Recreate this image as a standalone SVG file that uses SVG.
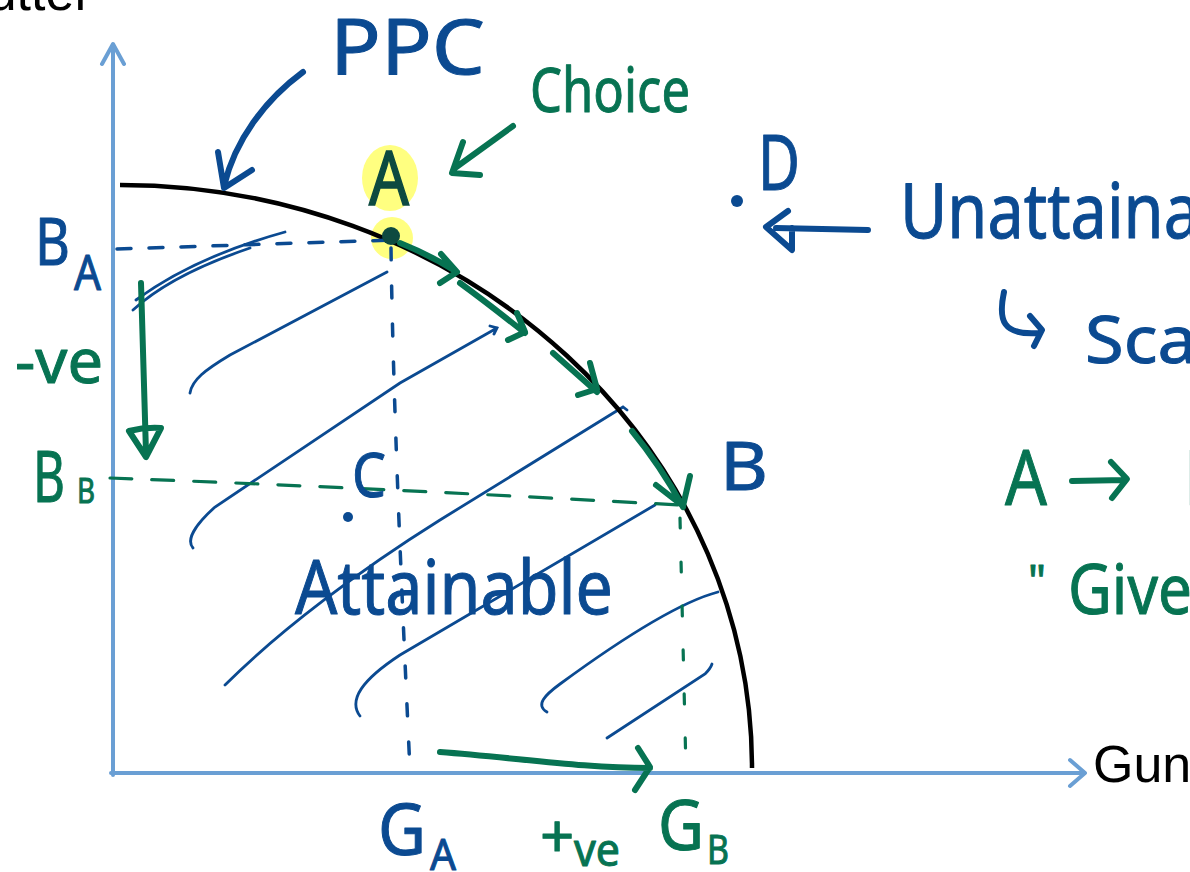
<svg xmlns="http://www.w3.org/2000/svg" width="1190" height="872" viewBox="0 0 1190 872">
<style>
.ax{stroke:#6a9fd4;stroke-width:4;fill:none;stroke-linecap:round;stroke-linejoin:round}
.ppc{stroke:#000;stroke-width:4.5;fill:none}
.hb{stroke:#0b4a91;stroke-width:2.8;fill:none;stroke-linecap:round}
.bl{stroke:#0b4a91;stroke-width:6;fill:none;stroke-linecap:round;stroke-linejoin:round}
.gr{stroke:#077352;stroke-width:6;fill:none;stroke-linecap:round;stroke-linejoin:round}
.dbl{stroke:#0b4a91;stroke-width:3.5;fill:none;stroke-linecap:round}
.dgr{stroke:#077352;stroke-width:3.2;fill:none;stroke-linecap:round}
.tb{fill:#0b4a91;stroke:#0b4a91;stroke-width:1;font-family:"Noto Sans","DejaVu Sans",sans-serif;stroke-linejoin:round}
.tg{fill:#077352;stroke:#077352;stroke-width:1;font-family:"Noto Sans","DejaVu Sans",sans-serif;stroke-linejoin:round}
.tk{fill:#000;font-family:"Liberation Sans",Arial,sans-serif;font-size:52px}
</style>
<rect width="1190" height="872" fill="#fff"/>
<g id="highlights" fill="#ffff80">
<ellipse cx="390" cy="178" rx="28" ry="33"/>
<circle cx="392" cy="238" r="21"/>
</g>
<g id="axes">
<path class="ax" d="M113,775 L113,45 M102,64 L113,44 L124,64"/>
<path class="ax" d="M111,773 L1084,773 M1070,760 L1085,773 L1070,786"/>
<text class="tk" x="-47" y="10">Butter</text>
<text class="tk" x="1093" y="782">Gun</text>
</g>
<g id="hatch">
<path class="hb" d="M136,300 C170,275 220,250 285,232"/>
<path class="hb" d="M133,310 C160,285 200,265 250,248"/>
<path class="hb" d="M190,393 C192,380 205,370 230,355 L387,272"/>
<path class="hb" d="M193,548 C186,540 195,525 215,507 L400,383 L497,328 M490,326 L497,328 L494,334"/>
<path class="hb" d="M225,685 C280,630 360,570 440,520 L623,407 L627,410"/>
<path class="hb" d="M360,716 C348,700 362,680 400,655 L655,505"/>
<path class="hb" d="M547,712 C535,705 545,695 560,684 C620,640 680,602 718,592"/>
<path class="hb" d="M607,738 L705,674 C709,670 711,667 712,664"/>
</g>
<g id="ppc-curve">
<path class="ppc" d="M120,185 A632,583 0 0 1 752,768"/>
</g>
<g id="guides">
<path class="dbl" d="M117,249 L392,240" stroke-dasharray="14 18"/>
<path class="dbl" d="M391,248 C393,400 402,600 410,770" stroke-dasharray="12 26"/>
<path class="dgr" d="M110,478 C300,485 500,495 680,505" stroke-dasharray="22 20"/>
<path class="dgr" d="M680,518 L686,770" stroke-dasharray="10 34"/>
</g>
<g id="connectors">
<path class="bl" d="M303,72 C265,100 235,140 224,186 M218,152 L224,188 L252,170"/>
<path class="gr" stroke-width="4" d="M513,126 L455,168 M463,142 L452,173 L480,175"/>
<path class="bl" stroke-width="5" d="M868,230 L776,228 M788,211 L766,227 L792,250 L792,228"/>
<path class="gr" d="M400,243 Q430,255 457,272 M441,254 L457,272 L440,283"/>
<path class="gr" d="M460,283 Q490,305 525,333 M517,313 L525,332 L508,340"/>
<path class="gr" d="M553,353 L597,392 M590,363 L597,389 L578,395"/>
<path class="gr" d="M632,431 Q660,465 683,507 M690,476 L683,506 L656,485"/>
<path class="gr" d="M141,283 L146,453 M129,431 Q145,427 161,428 L146,457 Z"/>
<path class="gr" d="M440,752 C520,758 580,768 650,768 M638,748 L650,767 L635,790"/>
<path class="bl" stroke-width="5" d="M1004,292 C998,320 1002,336 1040,333 M1030,316 L1042,330 L1034,346"/>
<path class="gr" stroke-width="5" d="M1072,481 L1125,480 M1111,462 L1127,479 L1112,498"/>
</g>
<g id="points">
<circle cx="391" cy="236" r="9" fill="#0d4a40"/>
<circle cx="737" cy="201" r="6" fill="#0b4a91"/>
<circle cx="348" cy="517" r="5" fill="#0b4a91"/>
</g>
<g id="labels">
<text class="tb" x="330" y="74" font-size="76" textLength="155" lengthAdjust="spacingAndGlyphs">PPC</text>
<text class="tg" x="530" y="112" font-size="62" stroke-width="0.4" textLength="160" lengthAdjust="spacingAndGlyphs">Choice</text>
<text x="369" y="205" font-size="74" textLength="40" lengthAdjust="spacingAndGlyphs" fill="#0d4a40" stroke="#0d4a40" stroke-width="1.6" font-family="Noto Sans, DejaVu Sans, sans-serif">A</text>
<text class="tb" x="758" y="190" font-size="76" textLength="42" lengthAdjust="spacingAndGlyphs">D</text>
<text class="tb" x="900" y="238" font-size="76" textLength="300" lengthAdjust="spacingAndGlyphs">Unattaina</text>
<text class="tb" x="1085" y="363" font-size="66" textLength="112" lengthAdjust="spacingAndGlyphs">Sca</text>
<text class="tg" x="1005" y="505" font-size="76" textLength="42" lengthAdjust="spacingAndGlyphs">A</text>
<text class="tg" x="1183" y="505" font-size="76">B</text>
<text class="tg" x="1028" y="596" font-size="44">"</text>
<text class="tg" x="1068" y="614" font-size="70" textLength="124" lengthAdjust="spacingAndGlyphs">Give</text>
<text class="tb" x="35" y="265" font-size="66" textLength="35" lengthAdjust="spacingAndGlyphs">B</text>
<text class="tb" x="74" y="290" font-size="50" textLength="27" lengthAdjust="spacingAndGlyphs">A</text>
<text class="tg" x="15" y="383" font-size="62" textLength="88" lengthAdjust="spacingAndGlyphs">-ve</text>
<text class="tg" x="33" y="502" font-size="72" textLength="32" lengthAdjust="spacingAndGlyphs">B</text>
<text class="tg" x="77" y="503" font-size="34" textLength="18" lengthAdjust="spacingAndGlyphs">B</text>
<text class="tb" x="720" y="490" font-size="68" textLength="48" lengthAdjust="spacingAndGlyphs">B</text>
<text class="tb" x="352" y="497" font-size="62" stroke-width="3" textLength="34" lengthAdjust="spacingAndGlyphs">C</text>
<text class="tb" x="295" y="614" font-size="74" stroke-width="0" textLength="318" lengthAdjust="spacingAndGlyphs">Attainable</text>
<text class="tb" x="378" y="855" font-size="72" textLength="48" lengthAdjust="spacingAndGlyphs">G</text>
<text class="tb" x="430" y="870" font-size="44" textLength="26" lengthAdjust="spacingAndGlyphs">A</text>
<text class="tg" x="540" y="858" font-size="60">+</text>
<text class="tg" x="574" y="866" font-size="46" textLength="46" lengthAdjust="spacingAndGlyphs">ve</text>
<text class="tg" x="658" y="850" font-size="70" textLength="46" lengthAdjust="spacingAndGlyphs">G</text>
<text class="tg" x="707" y="864" font-size="40" textLength="22" lengthAdjust="spacingAndGlyphs">B</text>
</g>
</svg>
